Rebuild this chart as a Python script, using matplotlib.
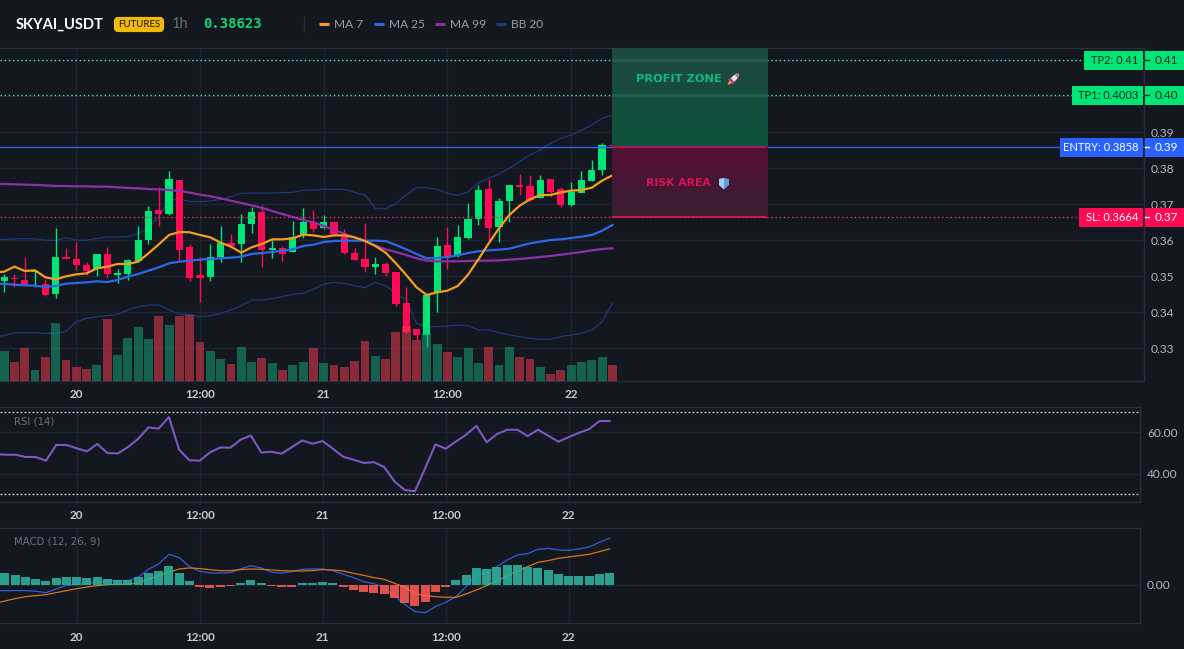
import numpy as np
import matplotlib
matplotlib.use("Agg")
import matplotlib.pyplot as plt
from matplotlib.patches import Rectangle, FancyBboxPatch, Polygon, Ellipse
from matplotlib.transforms import Affine2D

# ---- hourly series, first candle at index -7 (hours after the 20th, 00:00) ----
candle_hours = list(range(-7, 53))
line_hours = list(range(-8, 53))

opens = [.34870,.34963,.34898,.35120,.34777,.34509,.35537,.35481,.35314,.35194,.35620,.35046,.35055,.35435,.36009,.36842,.36722,.37675,.35805,.35037,
         .34990,.35527,.35935,.35898,.36453,.36796,.35722,.35787,.35685,.36148,.36509,.36333,.36509,.36148,.35638,.35481,.35259,.35342,.35111,.34250,
         .33537,.33370,.34527,.35870,.35592,.36055,.36583,.37425,.36379,.37092,.37537,.37509,.37185,.37703,.37425,.36981,.37324,.37648,.37953,.38660]
closes = [.34990,.34916,.34777,.35148,.34481,.35537,.35481,.35305,.35157,.35620,.35064,.35092,.35453,.36009,.36814,.36731,.37703,.35731,.34944,.34953,
          .35527,.35926,.35851,.36453,.36796,.35731,.35787,.35620,.36083,.36509,.36314,.36509,.36175,.35638,.35453,.35268,.35333,.35101,.34231,.33463,
          .33370,.34481,.35842,.35564,.36083,.36583,.37398,.36333,.37092,.37537,.37490,.37120,.37675,.37333,.36981,.37351,.37675,.37953,.38648,.38623]
highs = [.35064,.35064,.35527,.35148,.34926,.36333,.35787,.35953,.35388,.35620,.35805,.35203,.35472,.36398,.36953,.37472,.37925,.37675,.35888,.35527,
         .35898,.36398,.36175,.36722,.36916,.36981,.36009,.35842,.36537,.36888,.36842,.36703,.36509,.36314,.35777,.36472,.35527,.35388,.35111,.34713,
         .33537,.34481,.36083,.36361,.36425,.37027,.37537,.37703,.37185,.37537,.37842,.37814,.37814,.37703,.37490,.37611,.37925,.38231,.38694,.38680]
lows = [.34574,.34713,.34768,.34694,.34463,.34407,.35472,.35175,.35037,.35009,.34963,.34824,.34898,.35407,.35898,.36398,.36703,.35425,.34879,.34287,
        .34879,.35407,.35805,.35407,.36213,.35268,.35518,.35425,.35685,.36055,.36240,.36314,.36120,.35620,.35444,.35129,.35064,.35018,.34185,.33416,
        .33231,.33027,.34018,.35194,.35546,.36037,.36425,.35916,.35962,.36518,.37259,.37101,.37166,.37194,.36935,.36962,.37305,.37648,.37814,.38623]
volumes = [89,56,100,34,73,175,64,43,37,49,187,77,130,163,127,196,169,196,199,116,
           89,67,52,103,56,70,55,34,49,56,100,55,49,43,61,121,76,67,148,164,
           124,144,112,88,73,100,55,103,49,103,73,67,43,22,34,49,58,64,73,49]

ma7 = [.35101,.35129,.35268,.35148,.35166,.34972,.34916,.34999,.35055,.35083,.35222,.35268,.35342,.35342,.35407,.35638,.35888,.36148,.36231,.36222,
       .36148,.36083,.35935,.35824,.35657,.35805,.35898,.36027,.36027,.36055,.36157,.36138,.36092,.36138,.36138,.36083,.35981,.35842,.35657,.35361,
       .35037,.34694,.34481,.34555,.34601,.34731,.35046,.35472,.35916,.36333,.36703,.36962,.37138,.37259,.37259,.37333,.37379,.37398,.37462,.37657,.37805]
ma25 = [.34796,.34787,.34768,.34750,.34740,.34703,.34731,.34796,.34814,.34833,.34861,.34842,.34898,.34990,.35064,.35157,.35250,.35361,.35407,.35435,
        .35463,.35481,.35500,.35518,.35546,.35620,.35648,.35675,.35712,.35750,.35842,.35879,.35953,.35981,.35990,.35990,.35990,.35990,.35981,.35870,
        .35750,.35620,.35500,.35509,.35537,.35583,.35648,.35694,.35722,.35740,.35768,.35842,.35916,.35962,.36009,.36027,.36064,.36101,.36148,.36268,.36425]
ma99 = [.37574,.37564,.37555,.37546,.37537,.37527,.37509,.37509,.37500,.37500,.37490,.37490,.37472,.37453,.37444,.37425,.37416,.37398,.37370,.37324,
        .37268,.37222,.37166,.37101,.37037,.36972,.36898,.36814,.36731,.36648,.36564,.36500,.36398,.36287,.36185,.36074,.35981,.35861,.35750,.35675,
        .35592,.35500,.35435,.35416,.35416,.35416,.35425,.35435,.35435,.35444,.35463,.35481,.35509,.35537,.35564,.35601,.35638,.35675,.35722,.35759,.35777]
bb_upper = [.36009,.36027,.36037,.36046,.36037,.36009,.35990,.36074,.36009,.35999,.36055,.36092,.36092,.36101,.36194,.36333,.36657,.37120,.37138,.37083,
            .37074,.37092,.37138,.37212,.37305,.37314,.37314,.37314,.37324,.37333,.37388,.37398,.37416,.37416,.37416,.37333,.37259,.36888,.36870,.37027,
            .37259,.37462,.37462,.37416,.37305,.37250,.37342,.37601,.37722,.37842,.38000,.38185,.38370,.38509,.38694,.38833,.38925,.39064,.39203,.39388,.39481]
bb_lower = [.33324,.33351,.33435,.33435,.33435,.33416,.33416,.33463,.33740,.33833,.33879,.33907,.33944,.34064,.34157,.34203,.34203,.34064,.33944,.33935,
            .33879,.33898,.33972,.34064,.34185,.34342,.34342,.34379,.34435,.34500,.34527,.34638,.34787,.34833,.34805,.34740,.34685,.34833,.34740,.34527,
            .34342,.33694,.33601,.33601,.33620,.33648,.33629,.33509,.33509,.33435,.33370,.33324,.33277,.33250,.33250,.33324,.33370,.33416,.33509,.33740,.34250]

rsi = [49.5,49.2,49.2,48.1,48.1,46.3,53.9,53.9,52.3,50.8,54.4,50.0,49.8,52.9,56.9,62.4,61.9,67.4,51.6,46.5,
       46.3,50.3,52.7,52.6,56.5,58.5,50.3,50.6,49.7,52.9,56.1,54.5,55.8,52.1,48.2,46.8,45.2,45.6,43.2,36.3,
       32.1,31.5,42.7,54.2,52.1,55.6,58.9,63.2,55.2,59.2,61.3,61.3,58.2,61.3,58.4,55.5,57.7,59.8,61.6,65.5,65.5]

macd_line = [-.00068,-.00068,-.00068,-.00068,-.00076,-.00092,-.00048,-.00004,.00004,.00016,.00036,.00052,.00052,.00052,.00092,.00188,.00252,.00368,.00328,.00220,
             .00164,.00144,.00144,.00148,.00192,.00232,.00204,.00152,.00144,.00160,.00188,.00192,.00192,.00172,.00128,.00088,.00040,.00016,-.00032,-.00128,
             -.00232,-.00320,-.00332,-.00260,-.00208,-.00140,-.00020,.00128,.00148,.00220,.00300,.00360,.00376,.00428,.00440,.00420,.00416,.00432,.00456,.00512,.00560]
macd_signal = [-.00220,-.00192,-.00164,-.00140,-.00128,-.00116,-.00092,-.00068,-.00044,-.00024,-.00008,.00004,.00008,.00008,.00024,.00068,.00112,.00152,.00192,.00204,
               .00196,.00184,.00172,.00172,.00184,.00192,.00188,.00180,.00172,.00168,.00168,.00172,.00184,.00180,.00168,.00140,.00116,.00088,.00068,.00020,
               -.00028,-.00104,-.00128,-.00140,-.00148,-.00148,-.00108,-.00060,-.00008,.00048,.00112,.00168,.00220,.00272,.00292,.00320,.00336,.00352,.00368,.00400,.00432]
macd_hist = [.0014,.0012,.00096,.00072,.00048,.00084,.00096,.00096,.00084,.00096,.00072,.0006,.0006,.00096,.0014,.00168,.00228,.00144,.00048,-.00024,
             -.00036,-.00024,-.00016,.0002,.0006,.0002,-.00016,-.00024,-.00024,.0002,.00024,.00036,.0002,-.00024,-.00056,-.00084,-.00096,-.00104,-.00152,-.00216,
             -.00252,-.00204,-.00084,-.00028,.0006,.0012,.00204,.00192,.00216,.0024,.0024,.00216,.00204,.0018,.00132,.00108,.00108,.00108,.00132,.00144]

time_ticks = [0, 12, 24, 36, 48]
time_labels = ["20", "12:00", "21", "12:00", "22"]
price_ticks = [0.33, 0.34, 0.35, 0.36, 0.37, 0.38, 0.39]
price_grid = [0.40, 0.41]

TP2, TP1, ENTRY, SL = 0.41, 0.4003, 0.3858, 0.3664

# ---- theme ----
BG = "#131720"
GRID = "#1f2430"
BORDER = "#2b2f3b"
UP = "#00e676"
DOWN = "#ff0a54"
TICK = "#b4b8c2"
UI_FONT = ["Lato", "DejaVu Sans"]
W, H = 1184, 649

plt.rcParams["font.family"] = UI_FONT
fig = plt.figure(figsize=(W / 100, H / 100), dpi=100, facecolor=BG)


def panel(left, top, right, bottom):
    ax = fig.add_axes([left / W, 1 - bottom / H, (right - left) / W, (bottom - top) / H], facecolor=BG)
    for side, sp in ax.spines.items():
        sp.set_color(BORDER)
        sp.set_linewidth(1)
        sp.set_visible(side in ("top", "bottom", "right"))
    ax.yaxis.tick_right()
    ax.set_xticks(time_ticks, time_labels)
    ax.tick_params(axis="x", length=0, pad=6, labelsize=8.4, labelcolor="#c8ccd4")
    ax.tick_params(axis="y", length=0, pad=5, labelsize=8.6, labelcolor=TICK)
    for lab in ax.get_xticklabels():
        lab.set_fontweight("bold")
    ax.grid(True, color=GRID, linewidth=1)
    ax.set_axisbelow(True)
    return ax


# ---- price panel ----
ax = panel(0, 48, 1144, 381)
ax.set_xlim(-7.40, 103.56)
ax.set_ylim(0.32092, 0.41342)
ax.set_yticks(price_ticks + price_grid, [f"{t:.2f}" for t in price_ticks] + ["", ""])

hrs = np.array(candle_hours)
o, c, hi, lo = map(np.array, (opens, closes, highs, lows))
rising = c >= o
colors = np.where(rising, UP, DOWN)
ax.vlines(hrs, lo, hi, colors=colors, linewidth=1, zorder=3)
ax.bar(hrs, np.abs(c - o), bottom=np.minimum(o, c), width=0.7, color=colors, zorder=3)

ax.plot(line_hours, bb_upper, color="#1e3a7a", lw=0.9, zorder=2.5)
ax.plot(line_hours, bb_lower, color="#1e3a7a", lw=0.9, zorder=2.5)
ax.plot(line_hours, ma99, color="#8e2fa5", lw=1.6, zorder=4)
ax.plot(line_hours, ma25, color="#2d68e6", lw=1.6, zorder=4)
ax.plot(line_hours, ma7, color="#f59e1e", lw=1.6, zorder=4.1)

# volume shares the time axis, scaled to the foot of the panel
vol = ax.twinx()
vol.set_ylim(0, 999)
vol.axis("off")
vol.set_zorder(ax.get_zorder() + 1)
vol.bar(hrs, volumes, width=0.86, alpha=0.5,
        color=np.where(rising, "#15ab7e", "#ff3d52"))

# level lines and trade zones sit above candles and volume
lev = ax.twinx()
lev.set_ylim(ax.get_ylim())
lev.axis("off")
lev.set_zorder(vol.get_zorder() + 1)
ax.yaxis.tick_right()
lev.axhline(TP2, color="#3ee6b0", lw=1, ls=(0, (1, 2)))
lev.axhline(TP1, color="#3ee6b0", lw=1, ls=(0, (1, 2)))
lev.axhline(SL, color="#ff2a6d", lw=1, ls=(0, (1, 2)))
lev.axhline(ENTRY, color="#2f62e8", lw=1)

zone_left, zone_right = 51.96, 67.0
ylim_top = ax.get_ylim()[1]
profit_img = np.array([[[28, 74, 66]], [[15, 80, 60]]], dtype=np.uint8)
risk_img = np.array([[[80, 17, 50]], [[60, 28, 50]]], dtype=np.uint8)
lev.imshow(profit_img, extent=(zone_left, zone_right, ENTRY, ylim_top), aspect="auto",
           origin="upper", interpolation="bilinear", zorder=5)
lev.imshow(risk_img, extent=(zone_left, zone_right, SL, ENTRY), aspect="auto",
           origin="upper", interpolation="bilinear", zorder=5)
# the target levels glow faintly through the profit zone
lev.hlines([TP2, TP1], zone_left, zone_right, color="#6fd8b4", lw=2.4, alpha=0.12, zorder=5.5)
lev.hlines(ENTRY, zone_left, zone_right, color="#a51d58", lw=1.4, zorder=6)
lev.hlines(SL, zone_left, zone_right, color="#e0185f", lw=1.2, zorder=6)
lev.set_xlim(ax.get_xlim())
lev.set_ylim(ax.get_ylim())

# ---- RSI panel ----
ax_rsi = panel(0, 407, 1140, 502)
ax_rsi.set_xlim(-7.483, 103.74)
ax_rsi.set_ylim(26.3, 72.3)
ax_rsi.set_yticks([40, 60], ["40.00", "60.00"])
ax_rsi.axhline(70, color="#c9ccd4", lw=0.9, ls=(0, (1.6, 1.6)), zorder=2)
ax_rsi.axhline(30, color="#c9ccd4", lw=0.9, ls=(0, (1.6, 1.6)), zorder=2)
ax_rsi.plot(line_hours, rsi, color="#7e57c2", lw=1.5, zorder=3)

# ---- MACD panel ----
ax_macd = panel(0, 528.3, 1140, 623.3)
ax_macd.set_xlim(-7.483, 103.74)
ax_macd.set_ylim(-0.0046, 0.0068)
ax_macd.set_yticks([0], ["0.00"])
ax_macd.plot(line_hours, macd_line, color="#2f5fd8", lw=0.9, zorder=3)
ax_macd.plot(line_hours, macd_signal, color="#d9741a", lw=0.9, zorder=3)
hist = np.array(macd_hist)
ax_macd.bar(hrs, hist, width=0.88, alpha=0.88, zorder=4,
            color=np.where(hist >= 0, "#2bb39f", "#ff5a52"))

# ---- overlay in pixel units for the header, price tags and captions ----
ov = fig.add_axes([0, 0, 1, 1], facecolor="none", zorder=20)
ov.set_xlim(0, W)
ov.set_ylim(H, 0)
ov.axis("off")


def price_y(price):
    return H - ax.transData.transform((0, price))[1]


def tag(price, left, fill, ink, text, short):
    y = price_y(price)
    ov.add_patch(Rectangle((left, y - 9.5), 1143 - left, 19, color=fill, lw=0))
    ov.add_patch(Rectangle((1144.5, y - 9.5), W - 1144.5, 19, color=fill, lw=0))
    ov.plot([1145, 1149], [y, y], color=ink, lw=1)
    ov.text(1138.5, y, text, color=ink, ha="right", va="center", fontsize=8.0)
    ov.text(1166, y, short, color=ink, ha="center", va="center", fontsize=8.6)


tag(TP2, 1084, "#00e676", "#0f2a22", f"TP2: {TP2:.2f}", f"{TP2:.2f}")
tag(TP1, 1072, "#00e676", "#0f2a22", f"TP1: {TP1:.4f}", f"{TP1:.2f}")
tag(ENTRY, 1060, "#2962ff", "#ffffff", f"ENTRY: {ENTRY:.4f}", f"{ENTRY:.2f}")
tag(SL, 1079, "#ff0a54", "#ffffff", f"SL: {SL:.4f}", f"{SL:.2f}")

# header strip
ov.text(16, 24.5, "SKYAI_USDT", color="white", fontsize=10.6, fontweight="bold", va="center")
ov.add_patch(FancyBboxPatch((116, 19), 46, 11, boxstyle="round,pad=0,rounding_size=2",
                            mutation_aspect=1, fc="#f0b90b", ec="#f0b90b", lw=3))
ov.text(139, 24.8, "FUTURES", color="#17130a", fontsize=7.0, ha="center", va="center")
ov.text(172, 24.5, "1h", color="#6a6e78", fontsize=10.5, va="center")
ov.text(203, 24.5, "0.38623", color="#10d673", fontsize=10, fontweight="bold", va="center",
        family=["DejaVu Sans Mono"])
ov.plot([303.5, 303.5], [17, 31], color=BORDER, lw=1)
for x0, name, col in [(319, "MA 7", "#f59e1e"), (374, "MA 25", "#2d68e6"),
                      (435, "MA 99", "#8e2fa5"), (496, "BB 20", "#1e3a7a")]:
    ov.plot([x0, x0 + 10], [24, 24], color=col, lw=2.2, solid_capstyle="butt")
    ov.text(x0 + 15, 24, name, color="#9a9ea8", fontsize=8.6, va="center")

# panel captions
ov.text(14, 421, "RSI (14)", color="#6b6f7a", fontsize=7.3, va="center", family=["DejaVu Sans"])
ov.text(14, 542, "MACD (12, 26, 9)", color="#6b6f7a", fontsize=7.3, va="center", family=["DejaVu Sans"])

# zone captions with hand-drawn icons
ov.text(636, 78.5, "PROFIT ZONE", color="#10b981", fontsize=8.2, fontweight="bold", va="center",
        family=["DejaVu Sans"])
ov.text(646, 183.5, "RISK AREA", color="#d9105a", fontsize=7.8, fontweight="bold", va="center",
        family=["DejaVu Sans"])

rocket = Affine2D().rotate_deg(45).translate(734, 78.5) + ov.transData
ov.add_patch(Ellipse((0, 0), 5, 13, fc="#f1dfe6", ec="none", transform=rocket))
ov.add_patch(Polygon([(-2, -3), (2, -3), (0, -7)], fc="#e0566f", ec="none", transform=rocket))
ov.add_patch(Polygon([(-4, 5), (4, 5), (2, 2), (-2, 2)], fc="#c8405e", ec="none", transform=rocket))
ov.add_patch(Polygon([(-1.5, 6), (1.5, 6), (0, 9)], fc="#f39a2a", ec="none", transform=rocket))
ov.add_patch(Polygon([(719, 179), (724, 178), (729, 179), (729, 185), (724, 189.5), (719, 185)],
                     fc="#5b9fe8", ec="none"))
ov.add_patch(Polygon([(719, 179), (724, 178), (724, 189.5), (719, 185)], fc="#a7cdf2", ec="none"))

fig.savefig("out.png", dpi=100, facecolor=BG)
